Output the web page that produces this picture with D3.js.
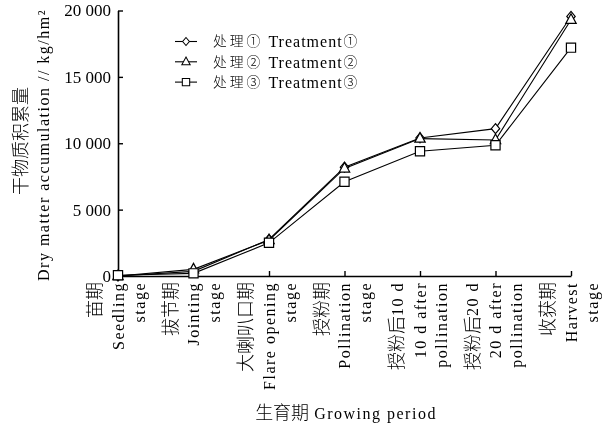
<!DOCTYPE html>
<html><head><meta charset="utf-8">
<script src="https://cdn.jsdelivr.net/npm/d3@7"></script>
<style>
html,body{margin:0;padding:0;background:#fff;}
svg{display:block;filter:grayscale(1);}
</style></head>
<body>
<svg id="c" width="606" height="426"></svg>
<script>
// ---- data ----
const categories = [
  ["苗期", "Seedling", "stage"],
  ["拔节期", "Jointing", "stage"],
  ["大喇叭口期", "Flare opening", "stage"],
  ["授粉期", "Pollination", "stage"],
  ["授粉后10 d", "10 d after", "pollination"],
  ["授粉后20 d", "20 d after", "pollination"],
  ["收获期", "Harvest", "stage"]
];
const treatment1 = [0, 350, 2750, 8200, 10400, 11100, 19550];
const treatment2 = [0, 500, 2700, 8100, 10350, 10250, 19300];
const treatment3 = [60, 200, 2500, 7100, 9400, 9850, 17200];
const seriesNames = ["处理① Treatment①", "处理② Treatment②", "处理③ Treatment③"];
const yTicks = [0, 5000, 10000, 15000, 20000];
const yTickLabels = ["0", "5 000", "10 000", "15 000", "20 000"];
const yTitle = ["干物质积累量", "Dry matter accumulation // kg/hm²"];
const xTitle = "生育期 Growing period";

// ---- setup ----
const svg = d3.select("#c");
const CJK = "'Noto Sans CJK SC'";
const LAT = "'Liberation Serif'";
const x = d3.scalePoint().domain(d3.range(categories.length)).range([118, 571]);
const y = d3.scaleLinear().domain([0, 20000]).range([276, 10.5]);

const CJKRE = /[\u3000-\u9fff\u2460-\u24ff\uff00-\uffef]/;
// mixed text: separate text elements per script run, laid out in a row
function mixed(parent, str, transform, anchor, cjkSize, latSize, ls, cjkLs) {
  const g = parent.append("g").attr("transform", transform);
  const runs = str.match(/[\u3000-\u9fff\u2460-\u24ff\uff00-\uffef]+|[^\u3000-\u9fff\u2460-\u24ff\uff00-\uffef]+/g) || [];
  let pos = 0;
  let prevEndsSpace = false;
  runs.forEach((r, k) => {
    const isC = CJKRE.test(r);
    let txt = r;
    let gap = 0;
    if (!isC) {
      if (/^\s/.test(txt) && k > 0) gap = 5;
      prevEndsSpace = /\s$/.test(txt);
      txt = txt.trim();
    } else if (prevEndsSpace) { gap = 5; prevEndsSpace = false; }
    else if (k > 0) gap = 1;
    if (!txt) return;
    pos += gap;
    const t = g.append("text")
      .attr("x", pos).attr("dy", "0.36em")
      .attr("font-family", isC ? CJK : LAT)
      .attr("font-size", isC ? cjkSize : latSize)
      .attr("font-weight", isC ? 300 : 400)
      .attr("letter-spacing", isC ? (cjkLs || 0) : ls)
      .attr("fill", "#000")
      .text(txt);
    pos += t.node().getComputedTextLength();
  });
  const shift = anchor === "end" ? -pos : anchor === "middle" ? -pos / 2 : 0;
  g.selectAll("text").attr("x", function () { return +this.getAttribute("x") + shift; });
  return g;
}

// ---- axes ----
const yAxis = d3.axisLeft(y).tickValues(yTicks)
  .tickFormat((d, i) => yTickLabels[i]).tickSizeInner(-5).tickSizeOuter(0).tickPadding(7);
const gy = svg.append("g").attr("transform", "translate(118,0)").call(yAxis);
gy.selectAll("text").attr("font-family", LAT).attr("font-size", 17).attr("fill", "#000");
gy.select(".domain").attr("stroke", "#000").attr("stroke-width", 1.6);
gy.selectAll(".tick line").attr("stroke", "#000").attr("stroke-width", 1.4);

const xAxis = d3.axisBottom(x).tickFormat("").tickSizeInner(-5).tickSizeOuter(0);
const gx = svg.append("g").attr("transform", "translate(0,276)").call(xAxis);
gx.select(".domain").attr("stroke", "#000").attr("stroke-width", 1.6);
gx.selectAll(".tick line").attr("stroke", "#000").attr("stroke-width", 1.4);

// category labels (rotated)
const offsets = [-23, 0, 21];
categories.forEach((cat, i) => {
  cat.forEach((line, j) => {
    const cx = x(i) + offsets[j];
    mixed(svg, line, `translate(${cx},282) rotate(-90)`, "end", 18, 16, 1.5);
  });
});

// y title
mixed(svg, yTitle[0], "translate(21,141) rotate(-90)", "middle", 18, 16, 1.5);
mixed(svg, yTitle[1], "translate(43,145) rotate(-90)", "middle", 18, 16, 1.5);

// x title
mixed(svg, xTitle, "translate(346,413)", "middle", 18, 16, 1.5);

// ---- series ----
const markers = [
  "M0,-5L4.2,0L0,5L-4.2,0Z",
  "M0,-6L5.2,3.6L-5.2,3.6Z",
  "M-4.6,-4.6H4.6V4.6H-4.6Z"
];
const allSeries = [treatment1, treatment2, treatment3];
const line = d3.line().x((d, i) => x(i)).y(d => y(d));
allSeries.forEach((vals, s) => {
  svg.append("path").datum(vals).attr("d", line)
    .attr("fill", "none").attr("stroke", "#000").attr("stroke-width", 1.1);
  svg.append("g").selectAll("path").data(vals).join("path")
    .attr("d", markers[s])
    .attr("transform", (d, i) => `translate(${x(i)},${y(d)})`)
    .attr("fill", "#fff").attr("stroke", "#000").attr("stroke-width", 1.2);
});

// ---- legend ----
const leg = svg.append("g");
seriesNames.forEach((name, s) => {
  const ly = 41.5 + s * 20.3;
  leg.append("line").attr("x1", 175).attr("x2", 197).attr("y1", ly).attr("y2", ly)
    .attr("stroke", "#000").attr("stroke-width", 1.1);
  leg.append("path").attr("d", markers[s])
    .attr("transform", `translate(186,${ly}) scale(0.8)`)
    .attr("fill", "#fff").attr("stroke", "#000").attr("stroke-width", 1.3);
  mixed(leg, name, `translate(213,${ly})`, "start", 13.8, 16, 1, 3);
});
</script>
</body></html>
